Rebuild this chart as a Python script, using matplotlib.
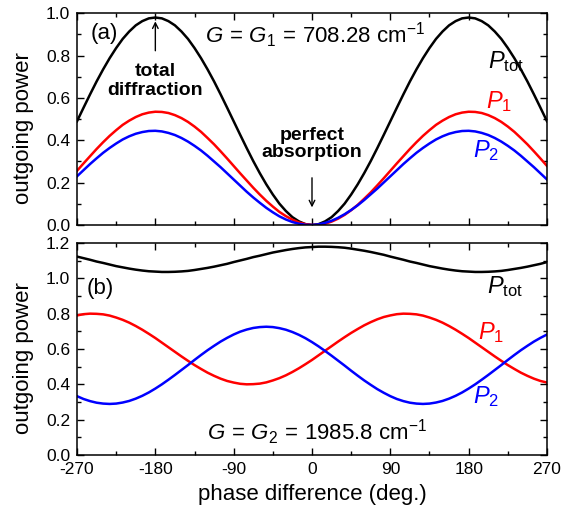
import matplotlib
matplotlib.use("Agg")
import matplotlib.pyplot as plt
from matplotlib.ticker import MultipleLocator

plt.rcParams['font.family'] = ['Liberation Sans', 'DejaVu Sans']
plt.rcParams['mathtext.fontset'] = 'custom'
plt.rcParams['mathtext.rm'] = 'Liberation Sans'
plt.rcParams['mathtext.it'] = 'Liberation Sans:italic'
plt.rcParams['mathtext.bf'] = 'Liberation Sans:bold'
plt.rcParams['axes.unicode_minus'] = False

# phase difference (deg.)
phase = [-270, -262.5, -255, -247.5, -240, -232.5, -225, -217.5, -210, -202.5, -195, -187.5,
         -180, -172.5, -165, -157.5, -150, -142.5, -135, -127.5, -120, -112.5, -105, -97.5,
         -90, -82.5, -75, -67.5, -60, -52.5, -45, -37.5, -30, -22.5, -15, -7.5, 0,
         7.5, 15, 22.5, 30, 37.5, 45, 52.5, 60, 67.5, 75, 82.5, 90, 97.5, 105, 112.5,
         120, 127.5, 135, 142.5, 150, 157.5, 165, 172.5, 180, 187.5, 195, 202.5, 210,
         217.5, 225, 232.5, 240, 247.5, 255, 262.5, 270]

# (a) G = G1
ptot_a = [0.490, 0.554, 0.617, 0.678, 0.735, 0.788, 0.836, 0.879, 0.914, 0.943, 0.963, 0.976,
          0.980, 0.976, 0.963, 0.943, 0.914, 0.879, 0.836, 0.788, 0.735, 0.678, 0.617, 0.554,
          0.490, 0.426, 0.363, 0.302, 0.245, 0.192, 0.144, 0.101, 0.066, 0.037, 0.017, 0.004, 0.000,
          0.004, 0.017, 0.037, 0.066, 0.101, 0.144, 0.192, 0.245, 0.302, 0.363, 0.426, 0.490,
          0.554, 0.617, 0.678, 0.735, 0.788, 0.836, 0.879, 0.914, 0.943, 0.963, 0.976, 0.980,
          0.976, 0.963, 0.943, 0.914, 0.879, 0.836, 0.788, 0.735, 0.678, 0.617, 0.554, 0.490]
p1_a = [0.256, 0.291, 0.325, 0.359, 0.391, 0.421, 0.448, 0.473, 0.493, 0.510, 0.523, 0.531,
        0.535, 0.534, 0.529, 0.519, 0.505, 0.487, 0.465, 0.440, 0.411, 0.381, 0.348, 0.314,
        0.279, 0.244, 0.210, 0.176, 0.144, 0.114, 0.087, 0.062, 0.042, 0.025, 0.012, 0.004, 0.000,
        0.001, 0.006, 0.016, 0.030, 0.048, 0.070, 0.095, 0.124, 0.154, 0.187, 0.221, 0.256,
        0.291, 0.325, 0.359, 0.391, 0.421, 0.448, 0.473, 0.493, 0.510, 0.523, 0.531, 0.535,
        0.534, 0.529, 0.519, 0.505, 0.487, 0.465, 0.440, 0.411, 0.381, 0.348, 0.314, 0.279]
p2_a = [0.230, 0.259, 0.288, 0.315, 0.341, 0.364, 0.385, 0.404, 0.419, 0.431, 0.439, 0.444,
        0.445, 0.442, 0.435, 0.425, 0.411, 0.394, 0.374, 0.352, 0.327, 0.300, 0.273, 0.244,
        0.215, 0.186, 0.157, 0.130, 0.105, 0.081, 0.060, 0.041, 0.026, 0.014, 0.006, 0.001, 0.000,
        0.003, 0.010, 0.020, 0.034, 0.051, 0.071, 0.093, 0.118, 0.145, 0.172, 0.201, 0.230,
        0.259, 0.288, 0.315, 0.341, 0.364, 0.385, 0.404, 0.419, 0.431, 0.439, 0.444, 0.445,
        0.442, 0.435, 0.425, 0.411, 0.394, 0.374, 0.352, 0.327, 0.300, 0.273, 0.244, 0.215]

# (b) G = G2
ptot_b = [1.123, 1.114, 1.105, 1.095, 1.087, 1.078, 1.069, 1.062, 1.055, 1.049, 1.044, 1.040,
          1.038, 1.036, 1.036, 1.037, 1.039, 1.042, 1.047, 1.053, 1.059, 1.066, 1.074, 1.082,
          1.092, 1.101, 1.110, 1.120, 1.128, 1.137, 1.146, 1.153, 1.160, 1.166, 1.171, 1.175, 1.177,
          1.179, 1.179, 1.178, 1.176, 1.173, 1.168, 1.162, 1.156, 1.149, 1.141, 1.133, 1.123,
          1.114, 1.105, 1.095, 1.087, 1.078, 1.069, 1.062, 1.055, 1.049, 1.044, 1.040, 1.038,
          1.036, 1.036, 1.037, 1.039, 1.042, 1.047, 1.053, 1.059, 1.066, 1.074, 1.082, 1.092]
p1_b = [0.790, 0.797, 0.800, 0.799, 0.796, 0.789, 0.778, 0.765, 0.749, 0.730, 0.709, 0.686,
        0.662, 0.636, 0.610, 0.584, 0.558, 0.533, 0.509, 0.487, 0.466, 0.448, 0.432, 0.419,
        0.410, 0.403, 0.400, 0.401, 0.404, 0.411, 0.422, 0.435, 0.451, 0.470, 0.491, 0.514, 0.538,
        0.564, 0.590, 0.616, 0.642, 0.667, 0.691, 0.713, 0.734, 0.752, 0.768, 0.781, 0.790,
        0.797, 0.800, 0.799, 0.796, 0.789, 0.778, 0.765, 0.749, 0.730, 0.709, 0.686, 0.662,
        0.636, 0.610, 0.584, 0.558, 0.533, 0.509, 0.487, 0.466, 0.448, 0.432, 0.419, 0.410]
p2_b = [0.333, 0.317, 0.305, 0.296, 0.291, 0.289, 0.291, 0.297, 0.306, 0.319, 0.335, 0.354,
        0.376, 0.400, 0.426, 0.453, 0.481, 0.509, 0.538, 0.566, 0.593, 0.618, 0.642, 0.663,
        0.682, 0.698, 0.710, 0.719, 0.724, 0.726, 0.724, 0.718, 0.709, 0.696, 0.680, 0.661, 0.639,
        0.615, 0.589, 0.562, 0.534, 0.506, 0.477, 0.449, 0.422, 0.397, 0.373, 0.352, 0.333,
        0.317, 0.305, 0.296, 0.291, 0.289, 0.291, 0.297, 0.306, 0.319, 0.335, 0.354, 0.376,
        0.400, 0.426, 0.453, 0.481, 0.509, 0.538, 0.566, 0.593, 0.618, 0.642, 0.663, 0.682]

xticks = [-270, -180, -90, 0, 90, 180, 270]
xticklabels = ['-270', '-180', '-90', '0', '90', '180', '270']

fig = plt.figure(figsize=(5.73, 5.15), dpi=100)
ax1 = fig.add_axes([0.1344, 0.5631, 0.8202, 0.4111])
ax2 = fig.add_axes([0.1344, 0.1165, 0.8202, 0.4117])

lw = 1.8
for ax in (ax1, ax2):
    ax.set_xlim(-270, 270)
    ax.set_xticks(xticks)
    ax.xaxis.set_minor_locator(MultipleLocator(45))
    ax.yaxis.set_minor_locator(MultipleLocator(0.1))
    ax.tick_params(which='both', direction='in', top=True, right=True, width=1.0)
    ax.tick_params(which='major', length=5, labelsize=12.5, pad=5)
    ax.tick_params(which='minor', length=3)
    for s in ax.spines.values():
        s.set_linewidth(1.1)

ax1.plot(phase, ptot_a, color='black', lw=lw)
ax1.plot(phase, p1_a, color='#ff0000', lw=lw)
ax1.plot(phase, p2_a, color='#0000ff', lw=lw)
ax1.set_ylim(0, 1.0)
ax1.set_yticks([0.0, 0.2, 0.4, 0.6, 0.8, 1.0])
ax1.set_yticklabels(['0.0', '0.2', '0.4', '0.6', '0.8', '1.0'])
ax1.set_xticklabels([])
ax1.set_ylabel('outgoing power', fontsize=16)
ax1.yaxis.set_label_coords(-0.092, 0.458)

ax2.plot(phase, ptot_b, color='black', lw=lw)
ax2.plot(phase, p1_b, color='#ff0000', lw=lw)
ax2.plot(phase, p2_b, color='#0000ff', lw=lw)
ax2.set_ylim(0, 1.2)
ax2.set_yticks([0.0, 0.2, 0.4, 0.6, 0.8, 1.0, 1.2])
ax2.set_yticklabels(['0.0', '0.2', '0.4', '0.6', '0.8', '1.0', '1.2'])
ax2.set_xticklabels(xticklabels)
ax2.set_ylabel('outgoing power', fontsize=16)
ax2.yaxis.set_label_coords(-0.092, 0.458)
ax2.set_xlabel('phase difference (deg.)', fontsize=16, labelpad=5)

# annotations panel (a)
ax1.text(-239, 0.905, '(a)', fontsize=16, ha='center', va='center')
ax1.text(-123, 0.861, r'$G\,=\,G_1\,=\,\mathrm{708.28\ cm}^{-1}$', fontsize=16,
         ha='left', va='baseline')
ax1.text(-180, 0.68, 'total\ndiffraction', fontsize=14, fontweight='bold',
         ha='center', va='center', linespacing=1.1)
ax1.annotate('', xy=(-180, 0.975), xytext=(-180, 0.81),
             arrowprops=dict(arrowstyle='->', lw=1.0, color='black'))
ax1.text(0, 0.383, 'perfect\nabsorption', fontsize=14, fontweight='bold',
         ha='center', va='center', linespacing=1.05)
ax1.annotate('', xy=(0, 0.07), xytext=(0, 0.236),
             arrowprops=dict(arrowstyle='->', lw=1.0, color='black'))
ax1.text(202, 0.741, r'$P_{\mathrm{tot}}$', fontsize=17, color='black', ha='left', va='baseline')
ax1.text(200, 0.551, r'$P_1$', fontsize=17, color='#ff0000', ha='left', va='baseline')
ax1.text(185, 0.323, r'$P_2$', fontsize=17, color='#0000ff', ha='left', va='baseline')

# annotations panel (b)
ax2.text(-243, 0.945, '(b)', fontsize=16, ha='center', va='center')
ax2.text(-121, 0.085, r'$G\,=\,G_2\,=\,\mathrm{1985.8\ cm}^{-1}$', fontsize=16,
         ha='left', va='baseline')
ax2.text(200.7, 0.915, r'$P_{\mathrm{tot}}$', fontsize=17, color='black', ha='left', va='baseline')
ax2.text(191, 0.656, r'$P_1$', fontsize=17, color='#ff0000', ha='left', va='baseline')
ax2.text(185, 0.293, r'$P_2$', fontsize=17, color='#0000ff', ha='left', va='baseline')

fig.savefig('out.png', dpi=100)
